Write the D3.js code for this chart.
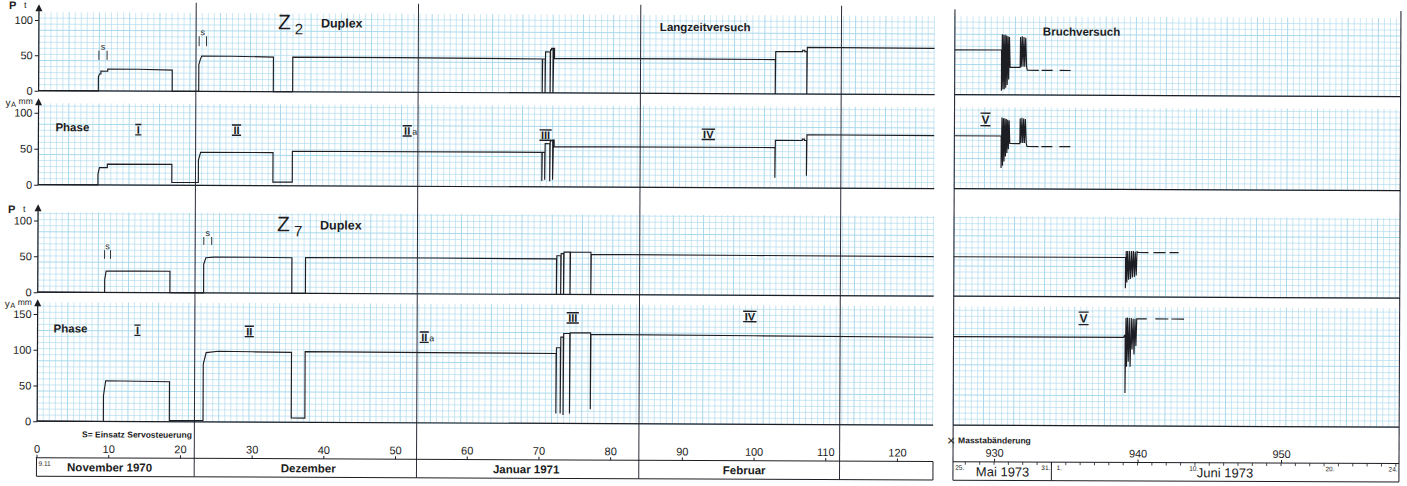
<!DOCTYPE html>
<html><head><meta charset="utf-8">
<script src="https://cdn.jsdelivr.net/npm/d3@7"></script>
<style>
html,body{margin:0;padding:0;background:#fff;}
svg{display:block;}
text{font-family:"Liberation Sans",Arial,sans-serif;fill:#1c1c22;}
</style></head><body>
<svg id="chart" width="1407" height="486"></svg>
<script>
// Day index: 0 = 9.11.1970. Load P in t, displacement yA in mm.

// Z2 Duplex, long-term test (Langzeitversuch)
const z2LoadLong = [[0,0],[8.4,0],[8.4,20],[8.55,24],[8.75,24],[8.75,28],[9.7,28],[9.7,31],[14,31],[18.7,30],[18.7,0],[22.4,0],[22.4,38],[22.6,45],[22.8,50],[27,50],[32.8,49],[32.8,0],[35.5,0],[35.5,49],[50,49],[70.3,48],[70.3,0],[70.35,48],[70.7,48],[70.7,0],[70.75,58],[71.4,58],[71.4,0],[71.45,61],[71.6,61],[71.6,63],[71.8,63],[71.8,0],[71.9,63],[72.0,63],[72.0,49],[90,49],[102.8,48.5],[102.8,0],[102.85,60],[106.6,60],[106.6,62],[106.9,62],[106.9,60],[107.2,60],[107.2,0],[107.25,66],[125,65.5]];
const z2DispLong = [[0,0],[8.4,0],[8.4,15],[8.6,24],[9.7,24],[9.7,29],[18.7,29],[18.7,4],[22.4,4],[22.4,35],[22.7,46],[32.8,46],[32.8,5],[35.5,5],[35.5,48],[70.3,48],[70.3,8],[70.35,48],[70.7,48],[70.7,10],[70.75,60],[71.4,60],[71.4,8],[71.45,63],[71.8,65],[71.8,10],[71.9,65],[72.0,65],[72.0,56],[102.8,56],[102.8,14],[102.85,66],[106.6,66],[106.6,68],[106.9,68],[106.9,66],[107.2,66],[107.2,17],[107.25,74],[125,73.5]];

// Z7 Duplex, long-term test
const z7LoadLong = [[0,0],[9.4,0],[9.4,18],[9.6,30],[14,30],[18.5,30],[18.5,0],[23.2,0],[23.2,40],[23.5,49],[24.6,50],[30,50],[35.5,49.5],[35.5,0],[37.4,0],[37.4,50],[55,50],[72.4,49.5],[72.4,0],[72.45,54],[73.0,54],[73.0,0],[73.05,57],[73.4,57],[73.4,0],[73.45,59],[74.3,59],[74.3,0],[74.35,59],[77.2,59],[77.2,0],[77.25,56],[100,55.5],[125,55]];
const z7DispLong = [[0,0],[9.3,0],[9.3,36],[9.6,57],[18.5,56],[18.5,2],[23.2,2],[23.2,81],[23.6,97],[25.3,99],[30,98.5],[35.5,98],[35.5,6],[37.4,6],[37.4,99],[55,98.5],[72.4,98],[72.4,14],[72.45,106],[73.0,106],[73.0,14],[73.05,121],[73.4,121],[73.4,12],[73.45,126],[74.3,126],[74.3,14],[74.35,127],[77.2,127],[77.2,20],[77.25,125],[100,124],[125,123]];

// Failure test (Bruchversuch), May/June 1973
const z2LoadBreak = [[927.14,63.5],[930.4,63.5],[930.4,6],[930.45,86],[930.5,8],[930.55,85],[930.6,8],[930.65,85],[930.7,10],[930.75,84],[930.8,14],[930.85,83],[930.9,22],[930.95,82],[931.0,39],[931.7,39],[931.72,82],[931.78,40],[931.84,83],[931.9,40],[931.96,82],[932.02,40],[932.08,81],[932.15,40],[932.2,35],[933.0,35]];
const z2LoadTail = [[933.2,35],[935.4,35]];
const z2DispBreak = [[927.14,73.5],[930.4,73.5],[930.4,29],[930.45,99],[930.5,32],[930.55,98],[930.6,38],[930.65,98],[930.7,45],[930.75,97],[930.8,50],[930.85,96],[930.9,55],[930.95,95],[931.0,63],[931.7,63],[931.72,98],[931.78,64],[931.84,99],[931.9,64],[931.96,98],[932.02,64],[932.08,97],[932.15,63],[932.2,59],[933.0,59]];
const z2DispTail = [[933.2,59],[935.4,59]];
const z7LoadBreak = [[927.14,55],[939.1,55],[939.1,12],[939.15,64],[939.2,20],[939.25,64],[939.32,24],[939.38,64],[939.45,25],[939.52,64],[939.58,27],[939.65,64],[939.72,28],[939.78,63],[939.85,30],[939.9,63],[940.0,62],[940.7,62]];
const z7LoadTail = [[941.05,62],[942.8,62]];
const z7DispBreak = [[927.14,124],[939.0,124],[939.05,127],[939.1,127],[939.1,46],[939.15,151],[939.2,83],[939.25,152],[939.32,90],[939.38,151],[939.45,83],[939.52,151],[939.58,107],[939.65,150],[939.72,100],[939.78,150],[939.85,112],[939.9,150],[940.0,150],[940.6,150]];
const z7DispTail = [[941.2,150],[943.2,150]];

// servo control start markers (S): [day left, day right, value low, value high]
const sMarksZ2 = [[8.46,9.6,44,57],[22.43,23.46,64,78]];
const sMarksZ7 = [[9.37,10.2,47,59],[23.2,24.3,67,78]];

// axis ticks and labels
const loadTicks = [0,50,100];
const dispTicksZ2 = [0,50,100];
const dispTicksZ7 = [0,50,100,150];
const dayTicks = [0,10,20,30,40,50,60,70,80,90,100,110,120];
const dayTicksBreak = [930,940,950];
const monthStarts = [22,53,84,112];
const monthLabels = [["November  1970",10.2],["Dezember",37.9],["Januar  1971",68.3],["Februar",98.7]];
const monthStartsBreak = [934.0];
const monthLabelsBreak = [["Mai  1973",930.6],["Juni  1973",946.1]];
const dateMarksBreak = [["25.",927.3],["31.",933.3],["1.",934.35],["10.",943.6],["20.",953.1],["24.",957.5]];
const phaseZ2 = [["I","",14,77],["II","",27.7,77],["II","a",51.5,77],["III","",70.8,72],["IV","",93.5,74]];
const phaseZ7 = [["I","",14,128],["II","",29.6,127],["II","a",54,120],["III","",74.7,148],["IV","",99.4,151]];
const phaseBreak = [["V",929.3,96,1],["V",936.2,150,3]];

const svg = d3.select("#chart");
const root = svg.append("g").attr("transform","rotate(0.25)");

const xL = d3.scaleLinear().domain([0,125]).range([38.5,934.8]);
const xR = d3.scaleLinear().domain([927.14,958.22]).range([955,1401]);

const rows = [
  {base:90.5, top:12, unit:0.706, tip:4},
  {base:184.5, top:103, unit:0.72, tip:98},
  {base:292, top:212, unit:0.717, tip:204},
  {base:421, top:302, unit:0.714, tip:299}
];
rows.forEach(r => r.y = d3.scaleLinear().domain([0,100]).range([r.base, r.base-100*r.unit]));

const ink = "#1d1d24";
const gridC = "#a9d9ec";

// graph paper
function paper(x0,x1,y0,y1){
  const g = root.append("g");
  const step = 6.05;
  d3.range(x0, x1+0.1, step).forEach((x,i)=>{
    g.append("line").attr("x1",x).attr("x2",x).attr("y1",y0).attr("y2",y1)
     .attr("stroke",gridC).attr("stroke-width", i%5===0?1.0:0.7).attr("opacity", i%5===0?1:0.85);
  });
  d3.range(y1, y0-0.1, -step).forEach((y,i)=>{
    g.append("line").attr("x1",x0).attr("x2",x1).attr("y1",y).attr("y2",y)
     .attr("stroke",gridC).attr("stroke-width", i%5===0?1.0:0.7).attr("opacity", i%5===0?1:0.85);
  });
}
rows.forEach(r=>{ paper(39,935,r.top,r.base); paper(955,1401,r.top,r.base); });

// month boundary lines and frames
monthStarts.forEach(d=>{
  root.append("line").attr("x1",xL(d)).attr("x2",xL(d)).attr("y1",2).attr("y2",476)
   .attr("stroke","#2c2c3a").attr("stroke-width",1);
});
[955,1401].forEach(x=>{
  root.append("line").attr("x1",x).attr("x2",x).attr("y1",5).attr("y2",476)
   .attr("stroke","#2c2c3a").attr("stroke-width",1.1);
});

// baselines
rows.forEach(r=>{
  root.append("line").attr("x1",39).attr("x2",935).attr("y1",r.base).attr("y2",r.base).attr("stroke",ink).attr("stroke-width",1.2);
  root.append("line").attr("x1",955).attr("x2",1401).attr("y1",r.base).attr("y2",r.base).attr("stroke",ink).attr("stroke-width",1.2);
});

// y axes
const tickSets = [loadTicks, dispTicksZ2, loadTicks, dispTicksZ7];
rows.forEach((r,i)=>{
  root.append("line").attr("x1",39).attr("x2",39).attr("y1",r.base).attr("y2",r.tip+5).attr("stroke",ink).attr("stroke-width",1.2);
  root.append("path").attr("d",`M39,${r.tip} L35.5,${r.tip+7} L42.5,${r.tip+7} Z`).attr("fill",ink);
  const ax = d3.axisLeft(r.y).tickValues(tickSets[i]).tickSize(4).tickPadding(2);
  const g = root.append("g").attr("transform","translate(39,0)").call(ax);
  g.select(".domain").remove();
  g.selectAll(".tick line").attr("stroke",ink);
  g.selectAll(".tick text").attr("font-size",11).attr("fill",ink).attr("font-family","Liberation Sans, Arial, sans-serif");
});

// axis names
function loadName(y){
  root.append("text").attr("x",9).attr("y",y).attr("font-size",11).attr("font-weight","bold").text("P");
  root.append("text").attr("x",24).attr("y",y-1).attr("font-size",9).text("t");
}
function dispName(y){
  root.append("text").attr("x",6).attr("y",y).attr("font-size",10).text("y");
  root.append("text").attr("x",11.5).attr("y",y+1).attr("font-size",7.5).text("A");
  root.append("text").attr("x",19).attr("y",y-2).attr("font-size",8.5).text("mm");
}
loadName(9); dispName(106); loadName(213); dispName(307);

// traces
function trace(data, x, y, dash){
  root.append("path").datum(data)
    .attr("d", d3.line().x(d=>x(d[0])).y(d=>y(d[1])))
    .attr("fill","none").attr("stroke",ink).attr("stroke-width",1.15)
    .attr("stroke-linejoin","miter").attr("stroke-dasharray", dash||null);
}
trace(z2LoadLong, xL, rows[0].y);
trace(z2DispLong, xL, rows[1].y);
trace(z7LoadLong, xL, rows[2].y);
trace(z7DispLong, xL, rows[3].y);
trace(z2LoadBreak, xR, rows[0].y);
trace(z2LoadTail, xR, rows[0].y, "11,7");
trace(z2DispBreak, xR, rows[1].y);
trace(z2DispTail, xR, rows[1].y, "11,7");
trace(z7LoadBreak, xR, rows[2].y);
trace(z7LoadTail, xR, rows[2].y, "12,4");
trace(z7DispBreak, xR, rows[3].y);
trace(z7DispTail, xR, rows[3].y, "13,3");

// S markers
function sMarks(list, r){
  list.forEach(([a,b,lo,hi])=>{
    [a,b].forEach(d=>root.append("line").attr("x1",xL(d)).attr("x2",xL(d)).attr("y1",r.y(lo)).attr("y2",r.y(hi)).attr("stroke",ink).attr("stroke-width",0.9));
    root.append("text").attr("x",(xL(a)+xL(b))/2).attr("y",r.y(hi)-1).attr("text-anchor","middle").attr("font-size",9).text("s");
  });
}
sMarks(sMarksZ2, rows[0]);
sMarks(sMarksZ7, rows[2]);

// roman phase numerals with bars above and below
function roman(x, y, t, suffix, size){
  const tx = root.append("text").attr("x",x).attr("y",y).attr("text-anchor","middle")
    .attr("font-size",size).attr("font-weight","bold").text(t);
  const w = tx.node().getComputedTextLength();
  const cap = size*0.72;
  [y-cap-1.2, y+1.2].forEach(yy=>root.append("line").attr("x1",x-w/2-1.5).attr("x2",x+w/2+1.5)
    .attr("y1",yy).attr("y2",yy).attr("stroke",ink).attr("stroke-width",1.4));
  if (suffix) root.append("text").attr("x",x+w/2+2).attr("y",y).attr("font-size",size*0.8).text(suffix);
}
function phases(list, r){
  list.forEach(([t,s,d,v])=>roman(xL(d), r.y(v)+4, t, s, 11));
}
phases(phaseZ2, rows[1]);
phases(phaseZ7, rows[3]);
root.append("text").attr("x",56).attr("y",rows[1].y(80)+4).attr("font-size",11.5).attr("font-weight","bold").text("Phase");
root.append("text").attr("x",55).attr("y",rows[3].y(130)+4).attr("font-size",11.5).attr("font-weight","bold").text("Phase");
phaseBreak.forEach(([t,d,v,ri])=>{
  const r = rows[ri];
  const x = xR(d), y = r.y(v)+4;
  root.append("text").attr("x",x).attr("y",y).attr("text-anchor","middle").attr("font-size",12).attr("font-weight","bold").text(t);
  [y-10.5,y+2].forEach(yy=>root.append("line").attr("x1",x-5).attr("x2",x+5).attr("y1",yy).attr("y2",yy).attr("stroke",ink).attr("stroke-width",1.4));
});

// titles
function title(y, sub){
  root.append("text").attr("x",278).attr("y",y).attr("font-size",21).text("Z");
  root.append("text").attr("x",295).attr("y",y+5).attr("font-size",15).text(sub);
  root.append("text").attr("x",321).attr("y",y-2).attr("font-size",12.5).attr("font-weight","bold").text("Duplex");
}
title(28,"2"); title(230,"7");
root.append("text").attr("x",660).attr("y",28).attr("font-size",11.5).attr("font-weight","bold").text("Langzeitversuch");
root.append("text").attr("x",1043).attr("y",31).attr("font-size",11.5).attr("font-weight","bold").text("Bruchversuch");

// time axis, long-term test
const axY = 457.5, boxB = 476;
root.append("text").attr("x",84).attr("y",437).attr("font-size",8.5).attr("font-weight","bold").text("S= Einsatz  Servosteuerung");
const axL = d3.axisTop(xL).tickValues(dayTicks).tickSize(3).tickPadding(2);
const gL = root.append("g").attr("transform",`translate(0,${axY})`).call(axL);
gL.select(".domain").attr("stroke",ink).attr("d",`M${xL(-0.1)},0H935`);
gL.selectAll(".tick line").attr("stroke",ink);
gL.selectAll(".tick text").attr("font-size",11).attr("fill",ink).attr("font-family","Liberation Sans, Arial, sans-serif");
root.append("line").attr("x1",xL(0)).attr("x2",935).attr("y1",boxB).attr("y2",boxB).attr("stroke",ink);
root.append("line").attr("x1",xL(0)).attr("x2",xL(0)).attr("y1",axY).attr("y2",boxB).attr("stroke",ink);
root.append("line").attr("x1",935).attr("x2",935).attr("y1",axY).attr("y2",boxB).attr("stroke",ink);
root.append("text").attr("x",xL(0)+2).attr("y",axY+8).attr("font-size",6.5).text("9.11");
monthLabels.forEach(([t,d])=>root.append("text").attr("x",xL(d)).attr("y",boxB-5).attr("text-anchor","middle").attr("font-size",11.5).attr("font-weight","bold").text(t));

// time axis, failure test (scale change)
root.append("text").attr("x",949).attr("y",441).attr("font-size",14).text("×");
root.append("text").attr("x",960).attr("y",439).attr("font-size",8.5).attr("font-weight","bold").text("Masstabänderung");
const axR = d3.axisTop(xR).tickValues(dayTicksBreak).tickSize(3).tickPadding(2).tickFormat(d3.format("d"));
const gR = root.append("g").attr("transform",`translate(0,${axY})`).call(axR);
gR.select(".domain").attr("stroke",ink).attr("d","M955,0H1401");
gR.selectAll(".tick line").attr("stroke",ink);
gR.selectAll(".tick text").attr("font-size",11).attr("fill",ink).attr("font-family","Liberation Sans, Arial, sans-serif");
d3.range(928,959).forEach(d=>root.append("line").attr("x1",xR(d)).attr("x2",xR(d)).attr("y1",axY).attr("y2",axY+3).attr("stroke",ink).attr("stroke-width",0.8));
root.append("line").attr("x1",955).attr("x2",1401).attr("y1",boxB).attr("y2",boxB).attr("stroke",ink);
monthStartsBreak.forEach(d=>root.append("line").attr("x1",xR(d)).attr("x2",xR(d)).attr("y1",axY).attr("y2",boxB).attr("stroke",ink));
dateMarksBreak.forEach(([t,d])=>root.append("text").attr("x",xR(d)).attr("y",axY+8).attr("font-size",6.5).text(t));
monthLabelsBreak.forEach(([t,d])=>root.append("text").attr("x",xR(d)).attr("y",boxB-4).attr("text-anchor","middle").attr("font-size",13).text(t));
</script>
</body></html>
